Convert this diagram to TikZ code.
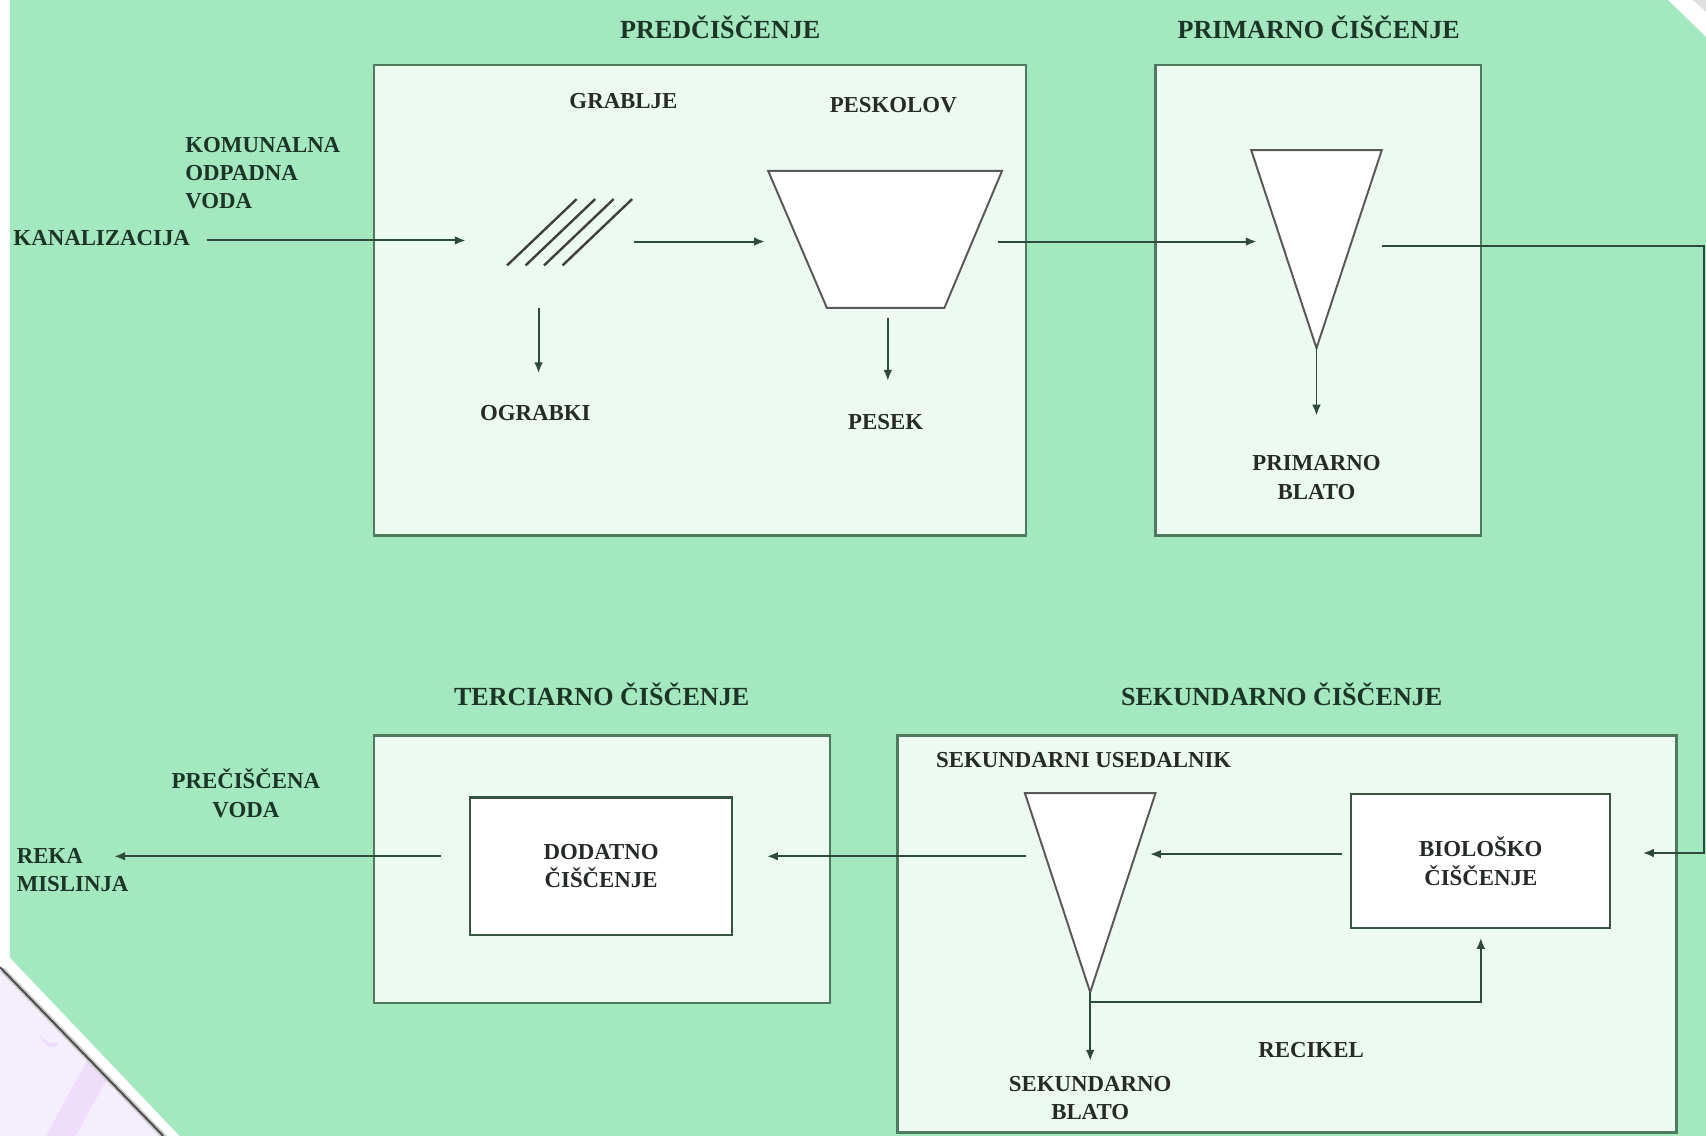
\documentclass[tikz,border=0pt]{standalone}
\usepackage{fontspec}
\setmainfont{Liberation Serif}
\usetikzlibrary{arrows.meta,fit}
\definecolor{bggreen}{HTML}{A4E8C0}
\definecolor{boxfill}{HTML}{EDFAF2}
\definecolor{boxline}{HTML}{4E7A5E}
\definecolor{flow}{HTML}{2E4A3A}
\definecolor{ink}{HTML}{1C3526}
\definecolor{inkin}{HTML}{262B28}
\definecolor{lav}{HTML}{F5EFFD}
\definecolor{lavband}{HTML}{EEDDFB}
\begin{document}
\begin{tikzpicture}[x=0.5pt,y=-0.5pt,
  stagebox/.style={draw=boxline, line width=1.1pt, fill=boxfill, inner sep=0pt},
  unitbox/.style={draw=boxline!70!black, line width=1pt, fill=white, inner sep=0pt, align=center, text=inkin, font=\fontsize{10.5}{13}\selectfont\bfseries},
  vessel/.style={draw=black!65, line width=0.9pt, fill=white, line join=miter},
  rakeline/.style={draw=black!75, line width=1.1pt},
  flowline/.style={draw=flow, line width=0.9pt},
  arr/.style={flowline, -{Latex[length=5pt,width=4pt]}},
  title/.style={text=ink, inner sep=0pt, font=\fontsize{12}{14}\selectfont\bfseries},
  lbl/.style={text=ink, inner sep=0pt, align=center, font=\fontsize{10.5}{13}\selectfont\bfseries},
  lblin/.style={lbl, text=inkin}
]
\useasboundingbox (0,0) rectangle (1568,1044);
% ---------- background ----------
\fill[white] (0,0) rectangle (1568,1044);
\fill[bggreen] (9,0) -- (1533,0) -- (1568,34) -- (1568,1044) -- (165,1044) -- (9,880) -- cycle;
\fill[black!12] (1556,0) -- (1568,0) -- (1568,11) -- cycle;
% lower-left lavender corner
\fill[lav] (0,889) -- (150,1044) -- (0,1044) -- cycle;
\begin{scope}
  \clip (0,889) -- (150,1044) -- (0,1044) -- cycle;
  \draw[lavband, line width=12pt] (52,1052) .. controls (66,1025) and (78,1003) .. (96,972);
  \fill[lavband] (36,950) .. controls (40,963) and (50,966) .. (54,958) .. controls (46,960) and (40,957) .. cycle;
\end{scope}
\draw[black!20, line width=2.5pt] (2,891) -- (152,1046);
\draw[black!70, line width=0.9pt] (0,889) -- (150,1044);

% ---------- stage boxes ----------
\node[stagebox, fit={(344,60) (943,492)}] (pre) {};
\node[stagebox, fit={(1062,60) (1361,492)}] (prim) {};
\node[stagebox, fit={(344,676) (763,922)}] (terc) {};
\node[stagebox, fit={(825,676) (1541,1041)}] (sek) {};

% ---------- titles ----------
\node[title] (tpre) at (662,25) {PREDČIŠČENJE};
\node[title] (tprim) at (1212,25) {PRIMARNO ČIŠČENJE};
\node[title] (tterc) at (553,638) {TERCIARNO ČIŠČENJE};
\node[title] (tsek) at (1178,638) {SEKUNDARNO ČIŠČENJE};

% ---------- left labels ----------
\node[lbl, align=left, anchor=west] (kom) at (170,159) {KOMUNALNA\\ODPADNA\\VODA};
\node[lbl, anchor=west] (kan) at (12,219) {KANALIZACIJA};
\node[lbl] (prec) at (226,729) {PREČIŠČENA\\VODA};
\node[lbl, align=left, anchor=west] (reka) at (15,800) {REKA\\MISLINJA};

% ---------- predčiščenje contents ----------
\node[lblin] (grab) at (573,93) {GRABLJE};
\node[lblin] (pesk) at (821,97) {PESKOLOV};
\node[lblin] (ograb) at (492,380) {OGRABKI};
\node[lblin] (pesek) at (814,388) {PESEK};
\foreach \i in {0,1,2,3}
  \draw[rakeline] (466+17*\i,244) -- (530+17*\i,183);
\draw[vessel] (706,157) -- (921,157) -- (868,283) -- (760,283) -- cycle;

% ---------- primarno contents ----------
\draw[vessel] (1150,138) -- (1270,138) -- (1210,320) -- cycle;
\node[lblin] (pblato) at (1210,439) {PRIMARNO\\BLATO};

% ---------- sekundarno contents ----------
\node[lblin, anchor=west] (sused) at (860,699) {SEKUNDARNI USEDALNIK};
\draw[vessel] (942,729) -- (1062,729) -- (1002,912) -- cycle;
\node[unitbox, minimum width=119pt, minimum height=61.5pt] (bio) at (1361,791.5) {BIOLOŠKO\\ČIŠČENJE};
\node[lblin] (sblato) at (1002,1009) {SEKUNDARNO\\BLATO};
\node[lblin] (recik) at (1205,965) {RECIKEL};

% ---------- terciarno contents ----------
\node[unitbox, minimum width=120.5pt, minimum height=63pt] (dod) at (552.5,796) {DODATNO\\ČIŠČENJE};

% ---------- connector end points ----------
\coordinate (kanOut) at (190,221);
\coordinate (rakeIn) at (428,221);
\coordinate (rakeOut) at (583,222);
\coordinate (peskIn) at (703,222);
\coordinate (peskOut) at (917,222);
\coordinate (primIn) at (1155,222);
\coordinate (primOut) at (1270,226);
\coordinate (edgeTop) at (1566,226);
\coordinate (edgeBot) at (1566,784);
\coordinate (bioIn) at (1510,784);
\coordinate (bioOut) at (1233,785);
\coordinate (sedIn) at (1057,785);
\coordinate (sedOut) at (943,787);
\coordinate (dodIn) at (705,787);
\coordinate (dodOut) at (405,787);
\coordinate (river) at (105,787);
\coordinate (rakeDown) at (495,283);
\coordinate (ograbIn) at (495,343);
\coordinate (peskDown) at (816,292);
\coordinate (pesekIn) at (816,350);
\coordinate (primApex) at (1210,320);
\coordinate (pblatoIn) at (1210,382);
\coordinate (sedApex) at (1002,912);
\coordinate (sblatoIn) at (1002,975);
\coordinate (recStart) at (1002,921);
\coordinate (recCorner) at (1361,921);
\coordinate (bioBot) at (1361,862);

% ---------- connectors ----------
\draw[arr] (kanOut) -- (rakeIn);
\draw[arr] (rakeOut) -- (peskIn);
\draw[arr] (peskOut) -- (primIn);
\draw[arr] (primOut) -- (edgeTop) -- (edgeBot) -- (bioIn);
\draw[arr] (bioOut) -- (sedIn);
\draw[arr] (sedOut) -- (dodIn);
\draw[arr] (dodOut) -- (river);
\draw[arr] (rakeDown) -- (ograbIn);
\draw[arr] (peskDown) -- (pesekIn);
\draw[arr] (primApex) -- (pblatoIn);
\draw[arr] (sedApex) -- (sblatoIn);
\draw[arr] (recStart) -- (recCorner) -- (bioBot);
\end{tikzpicture}
\end{document}
